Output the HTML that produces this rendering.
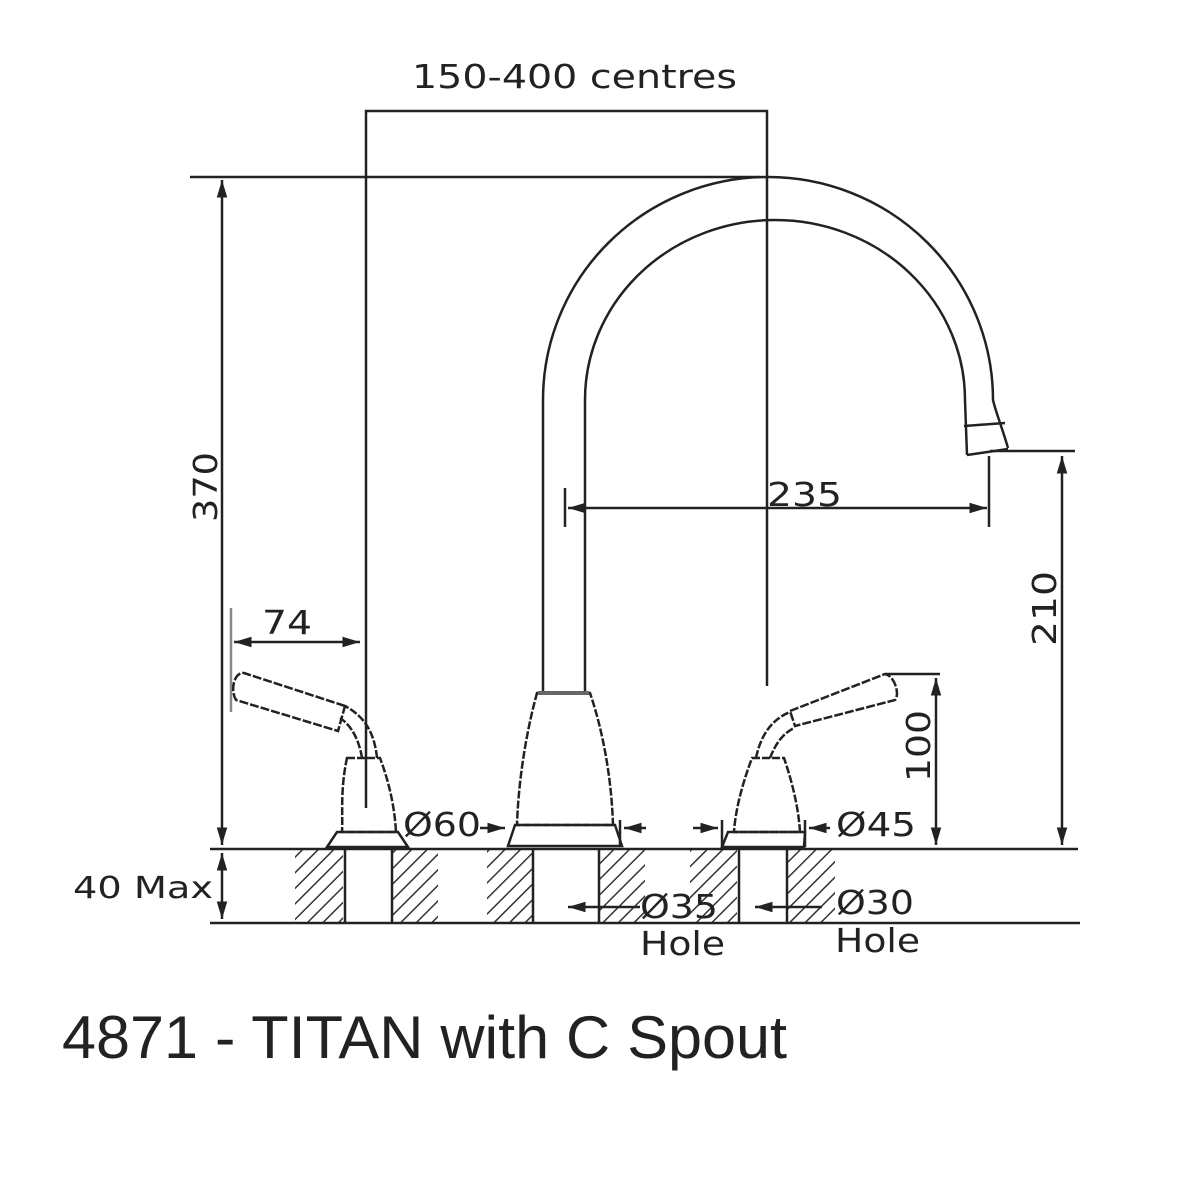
<!DOCTYPE html>
<html><head><meta charset="utf-8"><style>
html,body{margin:0;padding:0;background:#fff;}
svg{display:block;}
text{font-family:"DejaVu Sans","Liberation Sans",sans-serif;fill:#222;}
</style></head><body>
<svg width="1200" height="1200" viewBox="0 0 1200 1200" xmlns="http://www.w3.org/2000/svg">
<defs>
<marker id="ar" viewBox="0 0 10 10" refX="10" refY="5" markerWidth="7" markerHeight="7" orient="auto-start-reverse"><path d="M0,2 L10,5 L0,8 z" fill="#222"/></marker>
<pattern id="h" patternUnits="userSpaceOnUse" width="11" height="11" patternTransform="rotate(45)"><line x1="0" y1="0" x2="0" y2="11" stroke="#333" stroke-width="3"/></pattern>
</defs>
<g stroke="#222" stroke-width="2.5" fill="none">
<rect x="295" y="850" width="48" height="72" fill="url(#h)" stroke="none"/>
<rect x="393" y="850" width="45" height="72" fill="url(#h)" stroke="none"/>
<rect x="487" y="850" width="45" height="72" fill="url(#h)" stroke="none"/>
<rect x="600" y="850" width="45" height="72" fill="url(#h)" stroke="none"/>
<rect x="690" y="850" width="47" height="72" fill="url(#h)" stroke="none"/>
<rect x="788" y="850" width="47" height="72" fill="url(#h)" stroke="none"/>
<line x1="210" y1="849" x2="1078" y2="849"/>
<line x1="210" y1="923" x2="1080" y2="923"/>
<line x1="345" y1="849" x2="345" y2="923"/><line x1="392" y1="849" x2="392" y2="923"/>
<line x1="533" y1="849" x2="533" y2="923"/><line x1="599" y1="849" x2="599" y2="923"/>
<line x1="739" y1="849" x2="739" y2="923"/><line x1="787" y1="849" x2="787" y2="923"/>

<polyline points="366,808 366,111 767,111 767,686"/>
<line x1="190" y1="177" x2="760" y2="177"/>
<line x1="222" y1="180" x2="222" y2="845" marker-start="url(#ar)" marker-end="url(#ar)"/>
<line x1="231" y1="608" x2="231" y2="712" stroke="#888"/>
<line x1="234" y1="642" x2="360" y2="642" marker-start="url(#ar)" marker-end="url(#ar)"/>
<line x1="222" y1="853" x2="222" y2="919" marker-start="url(#ar)" marker-end="url(#ar)"/>

<path d="M543,692 L543,400 A225,223 0 0 1 993,400 C996,413 1002,427 1008,448"/>
<path d="M585,692 L585,400 A190,180 0 0 1 965,400 L967,455"/>
<line x1="964" y1="426" x2="1005" y2="423"/>
<line x1="967" y1="455" x2="1008" y2="449"/>
<line x1="990" y1="451" x2="1075" y2="451"/>
<path d="M537,693 L590,693 C606,740 612,790 613,825 L517,825 C518,790 524,740 537,693 Z" stroke-dasharray="8 2"/>
<line x1="538" y1="693" x2="589" y2="693" stroke-width="4" stroke="#666"/>
<path d="M515,825 L615,825 L622,846 L508,846 Z"/>
<line x1="565" y1="488" x2="565" y2="527"/>
<line x1="989" y1="456" x2="989" y2="527"/>
<line x1="568" y1="508" x2="987" y2="508" marker-start="url(#ar)" marker-end="url(#ar)"/>
<line x1="1062" y1="456" x2="1062" y2="845" marker-start="url(#ar)" marker-end="url(#ar)"/>

<path d="M347,758 L380,758 C392,790 395,815 396,832 L342,832 C343,815 340,790 347,758 Z" stroke-dasharray="8 2"/>
<path d="M337,832 L398,832 L408,847 L327,847 Z"/>
<path d="M362,758 C360,745 354,727 340,718 M377,758 C375,738 368,718 345,706" stroke-dasharray="8 2"/>
<path d="M345,706 L244,673 C234,672 230,690 236,700 L338,731 Z" stroke-dasharray="9 2"/>
<path d="M752,758 L784,758 C795,790 799,815 800,832 L734,832 C735,815 740,790 752,758 Z" stroke-dasharray="8 2"/>
<path d="M728,832 L805,832 L804,847 L722,847 Z"/>
<path d="M756,758 C760,738 770,720 790,712 M770,758 C775,745 782,734 794,728" stroke-dasharray="8 2"/>
<path d="M790,711 L885,674 C895,676 900,695 895,700 L795,726 Z" stroke-dasharray="9 2"/>
<line x1="885" y1="674" x2="940" y2="674"/>
<line x1="936" y1="678" x2="936" y2="845" marker-start="url(#ar)" marker-end="url(#ar)"/>
<line x1="480" y1="828" x2="505" y2="828" marker-end="url(#ar)"/>
<line x1="620" y1="820" x2="620" y2="845"/>
<line x1="646" y1="828" x2="624" y2="828" marker-end="url(#ar)"/>
<line x1="693" y1="828" x2="718" y2="828" marker-end="url(#ar)"/>
<line x1="722" y1="820" x2="722" y2="847"/>
<line x1="805" y1="820" x2="805" y2="847"/>
<line x1="830" y1="828" x2="809" y2="828" marker-end="url(#ar)"/>
<line x1="640" y1="907" x2="568" y2="907" marker-end="url(#ar)"/>
<line x1="822" y1="907" x2="755" y2="907" marker-end="url(#ar)"/>
</g>
<g font-size="33">
<text x="412" y="88" textLength="325" lengthAdjust="spacingAndGlyphs">150-400 centres</text>
<text transform="translate(217,522) rotate(-90)" textLength="70" lengthAdjust="spacingAndGlyphs">370</text>
<text x="262" y="634" textLength="50" lengthAdjust="spacingAndGlyphs">74</text>
<text x="73" y="898" font-size="30" textLength="140" lengthAdjust="spacingAndGlyphs">40 Max</text>
<text x="767" y="506" textLength="75" lengthAdjust="spacingAndGlyphs">235</text>
<text transform="translate(1056,646) rotate(-90)" textLength="75" lengthAdjust="spacingAndGlyphs">210</text>
<text transform="translate(930,782) rotate(-90)" textLength="72" lengthAdjust="spacingAndGlyphs">100</text>
<text x="403" y="836" textLength="78" lengthAdjust="spacingAndGlyphs">Ø60</text>
<text x="836" y="836" textLength="80" lengthAdjust="spacingAndGlyphs">Ø45</text>
<text x="640" y="918" textLength="78" lengthAdjust="spacingAndGlyphs">Ø35</text>
<text x="640" y="955" textLength="85" lengthAdjust="spacingAndGlyphs">Hole</text>
<text x="836" y="914" textLength="78" lengthAdjust="spacingAndGlyphs">Ø30</text>
<text x="835" y="952" textLength="85" lengthAdjust="spacingAndGlyphs">Hole</text>
</g>
<text x="62" y="1058" font-size="60" textLength="725" lengthAdjust="spacingAndGlyphs" style="font-family:'Liberation Sans',sans-serif">4871 - TITAN with C Spout</text>
</svg>
</body></html>
